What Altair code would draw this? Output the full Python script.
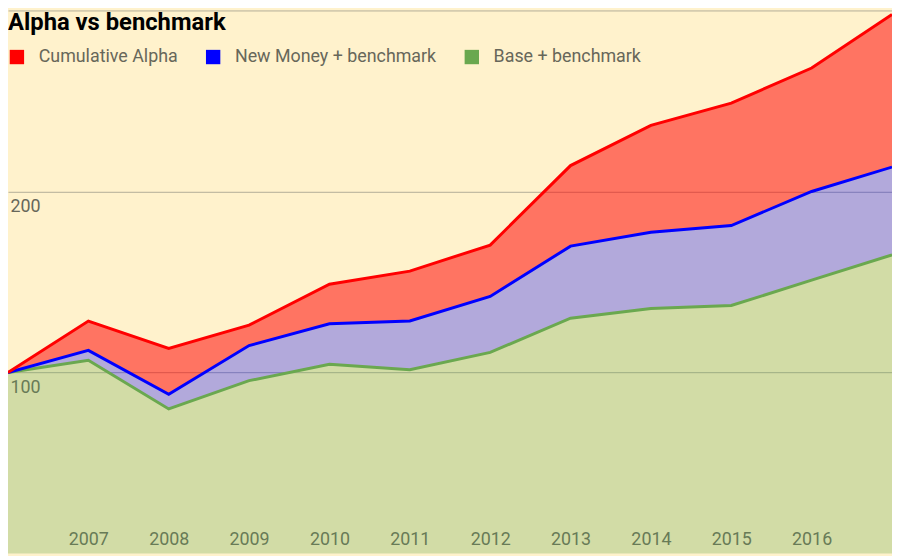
""" Alpha vs benchmark: stacked area chart of index values """
import altair as alt
import pandas as pd

years = [2006, 2007, 2008, 2009, 2010, 2011, 2012, 2013, 2014, 2015, 2016, 2017]
year_ticks = [2007, 2008, 2009, 2010, 2011, 2012, 2013, 2014, 2015, 2016]

# top edge of each band
cumulative_alpha = [100, 128.4, 113.3, 126.2, 148.8, 156.0, 170.4, 214.3, 236.5, 248.8, 268.2, 297.8]
new_money = [100, 112.2, 88.0, 114.9, 126.9, 128.5, 142.0, 169.8, 177.5, 181.2, 200.0, 213.5]
base = [100, 106.8, 79.9, 95.5, 104.5, 101.5, 111.1, 130.0, 135.4, 137.0, 151.0, 165.0]

series_names = ["Cumulative Alpha", "New Money + benchmark", "Base + benchmark"]
series_colors = ["#ff0000", "#0000ff", "#6aa84f"]

y_ticks = [100, 200, 300]

chart_title = "Alpha vs benchmark"

LABEL_COLOR = "#67675a"
BG = "#fff2cc"

# build one row per year and band (bottom band first so its line is drawn first)
rows = []
for i, yr in enumerate(years):
    rows.append({"series": series_names[2], "year": yr, "top": base[i], "bottom": 0})
for i, yr in enumerate(years):
    rows.append({"series": series_names[1], "year": yr, "top": new_money[i], "bottom": base[i]})
for i, yr in enumerate(years):
    rows.append({"series": series_names[0], "year": yr, "top": cumulative_alpha[i], "bottom": new_money[i]})
data = pd.DataFrame(rows)

color_scale = alt.Scale(domain=series_names, range=series_colors)

x_enc = alt.X(
    "year:Q",
    scale=alt.Scale(domain=[2006, 2017], nice=False, zero=False),
    axis=alt.Axis(
        values=year_ticks, format="d", title=None, grid=False, domain=False,
        ticks=False, tickSize=0, labelPadding=-9, labelBaseline="alphabetic",
        labelFontSize=18, labelColor=LABEL_COLOR, labelFont="Roboto",
    ),
)
y_enc = alt.Y(
    "top:Q",
    scale=alt.Scale(domain=[0, 300], nice=False),
    axis=alt.Axis(
        values=y_ticks, title=None, grid=True, gridColor="#b3ae98", gridWidth=1,
        domain=False, ticks=False, tickSize=0, labelAlign="left", labelPadding=-2,
        labelBaseline="alphabetic", labelOffset=20, labelFontSize=18,
        labelColor=LABEL_COLOR, labelFont="Roboto",
        labelExpr="datum.value == 100 || datum.value == 200 ? datum.label : ''",
    ),
)

areas = (alt
    .Chart(data)
    .mark_area(interpolate="linear")
    .encode(
        x=x_enc,
        y=y_enc,
        y2="bottom:Q",
        color=alt.Color(
            "series:N", scale=color_scale,
            legend=alt.Legend(
                title=None, orient="none", legendX=0, legendY=38, direction="horizontal",
                symbolType="square", symbolSize=210, symbolStrokeWidth=0, symbolOpacity=1,
                labelFontSize=18, labelFont="Roboto", labelColor=LABEL_COLOR,
                labelLimit=400, labelOffset=13, columnPadding=26, padding=0,
            ),
        ),
        fillOpacity=alt.condition(
            alt.datum.series == series_names[0], alt.value(0.52), alt.value(0.3)
        ),
    )
)

lines = (alt
    .Chart(data)
    .mark_line(strokeWidth=3)
    .encode(
        x=x_enc,
        y=y_enc,
        color=alt.Color("series:N", scale=color_scale),
    )
)

title_text = (alt
    .Chart(pd.DataFrame({"t": [chart_title]}))
    .mark_text(align="left", baseline="alphabetic", fontSize=24, fontWeight="bold",
               font="Roboto", color="black")
    .encode(text="t:N", x=alt.value(0), y=alt.value(20))
)

chart = (alt
    .layer(areas, lines, title_text)
    .properties(
        width=892,
        height=548,
        background=BG,
        padding=0,
        autosize=alt.AutoSizeParams(type="none"),
    )
    .configure_view(stroke=None, fill=BG)
)

chart.save("out.html", embed_options={"renderer": "svg", "actions": False})
